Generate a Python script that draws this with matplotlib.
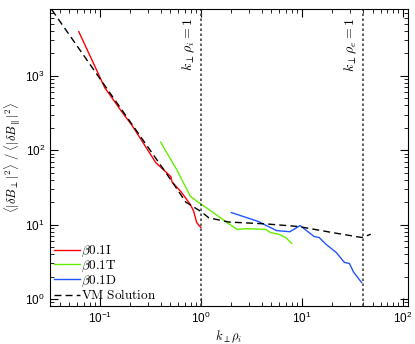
import matplotlib
matplotlib.use("Agg")
import matplotlib.pyplot as plt

plt.rcParams['font.family'] = ['Liberation Sans', 'DejaVu Sans']
plt.rcParams['mathtext.fontset'] = 'cm'

# Data
red_k = [0.062, 0.112, 0.173, 0.207, 0.358, 0.505, 0.517, 0.634, 0.79, 0.85, 0.91, 1.0]
red_v = [3900, 690, 300, 218, 68, 44, 37.7, 27.7, 18.5, 15, 10.6, 9.1]

green_k = [0.40, 0.575, 0.79, 0.95, 1.29, 1.82, 2.29, 2.79, 4.4, 4.9, 5.9, 6.9, 7.9]
green_v = [128, 55, 23.8, 19.8, 14.9, 10.6, 8.6, 8.8, 8.6, 7.8, 7.4, 6.7, 5.6]

blue_k = [2.0, 3.7, 5.6, 7.6, 9.6, 13.2, 14.8, 17.4, 21.9, 26.3, 29.5, 32.4, 39.0]
blue_v = [14.5, 11.0, 8.3, 8.0, 9.7, 6.9, 6.7, 5.4, 4.2, 3.1, 3.0, 2.3, 1.66]

vm_k = [0.0335, 0.115, 0.45, 0.71, 1.0, 1.2, 1.9, 4.4, 9.3, 20.0, 39.0, 48.0]
vm_v = [7700, 700, 50, 20, 15.0, 12.3, 10.8, 10.2, 9.4, 7.8, 6.7, 7.4]

vlines_k = [1.0, 40.0]
vline_labels = [r'$k_\perp\rho_i=1$', r'$k_\perp\rho_e=1$']

fig = plt.figure(figsize=(4.15, 3.44), dpi=100)
ax = fig.add_axes([0.120, 0.110, 0.863, 0.864])

ax.plot(red_k, red_v, color='#ff0000', lw=1.0, label=r'$\beta0.1\mathrm{I}$')
ax.plot(green_k, green_v, color='#66ee00', lw=1.0, label=r'$\beta0.1\mathrm{T}$')
ax.plot(blue_k, blue_v, color='#2255ff', lw=1.0, label=r'$\beta0.1\mathrm{D}$')
ax.plot(vm_k, vm_v, color='black', lw=1.0, ls=(0, (5, 3)), label=r'$\mathrm{VM\ Solution}$')

for xv, lab in zip(vlines_k, vline_labels):
    ax.axvline(xv, color='#444444', lw=1.2, ls=(0, (1.5, 1.5)))
    ax.text(xv * 0.92, 6000, lab, rotation=90, ha='right', va='top', fontsize=10)

ax.set_xscale('log')
ax.set_yscale('log')
ax.set_xlim(0.032, 112)
ax.set_ylim(0.8, 7900)

ax.tick_params(which='both', direction='in', top=True, right=True, labelsize=8.5)
ax.tick_params(which='major', length=6, width=0.8)
ax.tick_params(which='minor', length=3, width=0.6)
for s in ax.spines.values():
    s.set_linewidth(0.8)

ax.set_xlabel(r'$k_\perp\rho_i$', fontsize=9, labelpad=2)
ax.set_ylabel(r'$\langle|\delta B_\perp|^2\rangle\ /\ \langle|\delta B_\parallel|^2\rangle$', fontsize=9, labelpad=2)

ax.legend(loc='lower left', frameon=False, fontsize=9.5, handlelength=2.0,
          handletextpad=0.1, labelspacing=-0.05, borderaxespad=0.1, borderpad=0.2)

fig.savefig('out.png', dpi=100)
